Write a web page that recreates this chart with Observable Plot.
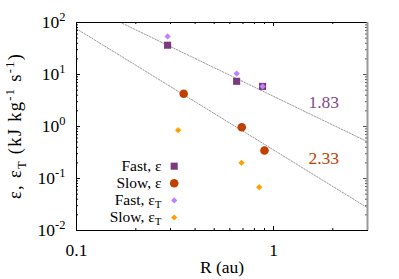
<!DOCTYPE html>
<html><head><meta charset="utf-8">
<script src="https://cdn.jsdelivr.net/npm/d3@7"></script>
<script src="https://cdn.jsdelivr.net/npm/@observablehq/plot@0.6"></script>
<style>body{margin:0;background:#fff}</style>
</head><body><div id="chart"></div>
<script>
// ---- data ----
const fastR = [0.29, 0.65, 0.88];
const fastEps = [36.6, 7.4, 5.9];
const fastEpsT = [54, 10.4, 5.9];
const slowR = [0.35, 0.69, 0.90];
const slowEps = [4.25, 0.97, 0.345];
const slowRT = [0.328, 0.688, 0.846];
const slowEpsT = [0.85, 0.20, 0.068];
const fitSlopes = [1.83, 2.33];
const fitCoefs = [3.8, 0.354];
const fitLabels = ["1.83", "2.33"];
const fitLabelX = [1.8, 1.8];
const fitLabelY = [2.9, 0.243];
const fitColors = ["#87488a", "#c04000"];
const xMajor = [0.1, 1];
const xMajorLabels = ["0.1", "1"];
const xMinor = [0.2, 0.3, 0.4, 0.5, 0.6, 0.7, 0.8, 0.9, 2, 3];
const yMajor = [0.01, 0.1, 1, 10, 100];
const yExp = ["-2", "-1", "0", "1", "2"];
const yMinor = [];
for (const d of [0.01, 0.1, 1, 10]) for (let k = 2; k <= 9; k++) yMinor.push(+(d * k).toPrecision(3));
const legendLabels = ["Fast, ε", "Slow, ε", "Fast, ε_{T}", "Slow, ε_{T}"];
const legendSymbols = ["square", "circle", "diamond2", "diamond2"];
const legendColors = ["#7b3a7b", "#c04000", "#c080ff", "#ffa000"];
const legendR = [4, 4.3, 2.8, 2.8];

// ---- layout ----
const W = 399, H = 279, mL = 76, mR = 32, mT = 22, mB = 49;
const fw = W - mL - mR, fh = H - mT - mB;
const font = "Liberation Serif";
const fs = 17.5, fsSmall = 12.5, fsLegend = 15.5;

const fitLines = [];
fitSlopes.forEach((s, i) => {
  for (const x of [0.1, 3]) fitLines.push({fit: i, x, y: fitCoefs[i] * Math.pow(x, -s)});
});

const series = [
  {x: fastR, y: fastEps, sym: 0},
  {x: slowR, y: slowEps, sym: 1},
  {x: fastR, y: fastEpsT, sym: 2},
  {x: slowRT, y: slowEpsT, sym: 3}
];

const marks = [];
marks.push(Plot.line(fitLines, {x: "x", y: "y", z: "fit", stroke: "#999", strokeWidth: 1, strokeDasharray: "1.5,1.5", clip: true}));
const tk = (vals, len, side) => {
  if (side === "bottom") return Plot.tickX(vals, {x: d => d, insetTop: fh - len, stroke: "#000"});
  if (side === "top") return Plot.tickX(vals, {x: d => d, insetBottom: fh - len, stroke: "#000"});
  if (side === "left") return Plot.tickY(vals, {y: d => d, insetRight: fw - len, stroke: "#000"});
  return Plot.tickY(vals, {y: d => d, insetLeft: fw - len, stroke: "#555"});
};
for (const side of ["bottom", "top"]) { marks.push(tk(xMajor, 4, side)); marks.push(tk(xMinor, 2, side)); }
for (const side of ["left", "right"]) { marks.push(tk(yMajor, 4, side)); marks.push(tk(yMinor, 2, side)); }
marks.push(Plot.frame({stroke: "#000"}));
marks.push(Plot.ruleX([3], {stroke: "#999", strokeWidth: 2}));
marks.push(Plot.text(xMajor, {x: d => d, text: (d, i) => xMajorLabels[i], frameAnchor: "bottom", dy: 25, lineAnchor: "bottom", fontSize: fs, fontFamily: font, fill: "#000"}));
marks.push(Plot.text(yMajor, {y: d => d, text: (d, i) => "10^{" + yExp[i] + "}", frameAnchor: "left", dx: -11, textAnchor: "end", lineAnchor: "middle", fontSize: fs, fontFamily: font, fill: "#000"}));
marks.push(Plot.text(["R (au)"], {frameAnchor: "bottom", dy: 42, lineAnchor: "bottom", fontSize: fs, fontFamily: font, fill: "#000"}));
marks.push(Plot.text(["ε, ε_{T} (kJ kg^{-1} s^{-1})"], {frameAnchor: "left", dx: -(mL - 20.5), rotate: -90, textAnchor: "middle", lineAnchor: "bottom", fontSize: 18.5, fontFamily: font, fill: "#000", className: "ytitle"}));
marks.push(Plot.text(fitLabels, {x: (d, i) => fitLabelX[i], y: (d, i) => fitLabelY[i], text: d => d, fill: (d, i) => fitColors[i], fontSize: fs, fontFamily: font, lineAnchor: "middle"}));
for (const s of series) {
  const data = s.x.map((x, i) => ({x, y: s.y[i]}));
  marks.push(Plot.dot(data, {x: "x", y: "y", symbol: legendSymbols[s.sym], fill: legendColors[s.sym], r: legendR[s.sym], stroke: "none"}));
}
legendLabels.forEach((lab, i) => {
  const dy = 143.7 + i * 17.1;
  marks.push(Plot.text([lab], {frameAnchor: "top-left", dx: 85, dy, textAnchor: "end", lineAnchor: "middle", fontSize: fsLegend, fontFamily: font, fill: "#000", className: "legend"}));
  marks.push(Plot.dot([lab], {x: null, y: null, frameAnchor: "top-left", dx: 97.7, dy, symbol: legendSymbols[i], fill: legendColors[i], r: legendR[i], stroke: "none"}));
});

const svg = Plot.plot({
  width: W, height: H,
  marginLeft: mL, marginRight: mR, marginTop: mT, marginBottom: mB,
  x: {type: "log", domain: [0.1, 3], axis: null},
  y: {type: "log", domain: [0.01, 100], axis: null},
  style: {fontFamily: font, background: "#fff"},
  marks
});

d3.select(svg).selectAll("text").each(function () {
  this.setAttribute("font-family", font);
  const t = this.textContent;
  if (!/[\^_]\{/.test(t)) return;
  const isLegend = !!this.closest(".legend");
  const small = isLegend ? 11 : fsSmall;
  const sel = d3.select(this);
  sel.text(null);
  const re = /([\^_])\{([^}]*)\}/g;
  let last = 0, cur = 0, m;
  const add = (str, shift, size) => {
    if (!str) return;
    const ts = sel.append("tspan").attr("dy", (shift - cur) + "px").text(str);
    if (size) ts.attr("font-size", size);
    cur = shift;
  };
  while ((m = re.exec(t))) {
    add(t.slice(last, m.index), 0, null);
    add(m[2], m[1] === "^" ? -7 : (isLegend ? 3 : 4.5), small);
    last = re.lastIndex;
  }
  add(t.slice(last), 0, null);
});
d3.select(svg).selectAll(".ytitle text").attr("textLength", 145).attr("lengthAdjust", "spacing");

document.getElementById("chart").appendChild(svg);
</script>
</body></html>
